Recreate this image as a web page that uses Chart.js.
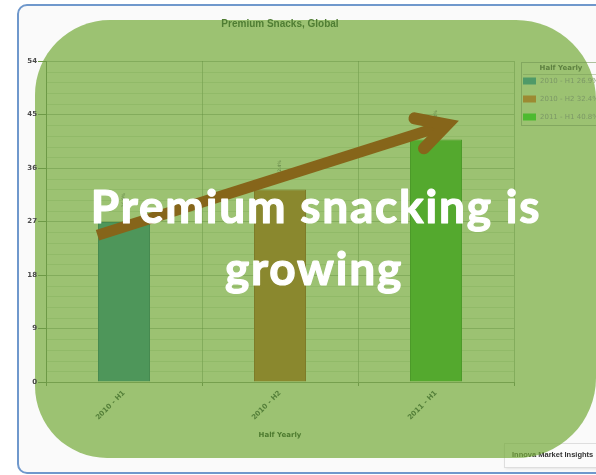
<!DOCTYPE html>
<html>
<head>
<meta charset="utf-8">
<title>Premium Snacks, Global</title>
<script src="https://cdn.jsdelivr.net/npm/chart.js@4.4.1/dist/chart.umd.min.js"></script>
<style>
  html, body { margin: 0; padding: 0; background: #fff; }
  #chart { display: block; }
</style>
</head>
<body>
<canvas id="chart" width="596" height="475"></canvas>
<script>
"use strict";
// 半期別プレミアムスナック構成比
var categories = ["2010 - H1", "2010 - H2", "2011 - H1"];
var shares = [26.9, 32.4, 40.8];
var barColors = ["#4e965a", "#8a882e", "#54a92e"];
var barBorders = ["#468a50", "#7d7b28", "#4c9a29"];
var legendColors = ["#4f9a68", "#9c8a32", "#4dba30"];
var yMax = 54;
var yStep = 9;
var minorStep = 1.8;

var headline = ["Premium snacking is", "growing"];
// 矢印の始点・先端（カテゴリ位置, 値）
var arrowFrom = [-0.17, 24.7];
var arrowTo = [2.07, 43.3];

var decor = {
    id: "decor",
    beforeDraw: function (chart) {
        var ctx = chart.ctx;
        ctx.save();
        ctx.fillStyle = "#fff";
        ctx.fillRect(0, 0, chart.width, chart.height);

        // 外枠
        ctx.beginPath();
        ctx.roundRect(18, 5, 640, 468, 9);
        ctx.fillStyle = "#fafafa";
        ctx.fill();
        ctx.lineWidth = 2;
        ctx.strokeStyle = "#6f98cc";
        ctx.stroke();

        // クレジット
        ctx.shadowColor = "rgba(0,0,0,0.12)";
        ctx.shadowBlur = 3;
        ctx.shadowOffsetY = 1;
        ctx.fillStyle = "#fbfbfb";
        ctx.fillRect(504.5, 443.5, 100, 24);
        ctx.shadowColor = "transparent";
        ctx.strokeStyle = "#dedede";
        ctx.lineWidth = 1;
        ctx.strokeRect(504.5, 443.5, 100, 24);
        ctx.fillStyle = "#333";
        ctx.font = "bold 7.5px 'Liberation Sans'";
        ctx.textBaseline = "middle";
        ctx.fillText("Innova Market Insights", 512, 455);

        // 緑のパネル（半透明）
        ctx.beginPath();
        ctx.roundRect(35, 20, 561, 438, [75, 80, 80, 72]);
        ctx.fillStyle = "rgba(115,169,55,0.7)";
        ctx.fill();
        ctx.restore();
    },
    beforeDatasetsDraw: function (chart) {
        var ctx = chart.ctx;
        var a = chart.chartArea;
        var y = chart.scales.y;
        ctx.save();
        ctx.strokeStyle = "rgba(120,165,80,0.28)";
        ctx.lineWidth = 1;
        for (var v = minorStep; v < yMax; v += minorStep) {
            if (Math.abs(v / yStep - Math.round(v / yStep)) < 0.01) continue;
            var py = Math.round(y.getPixelForValue(v)) + 0.5;
            ctx.beginPath();
            ctx.moveTo(a.left, py);
            ctx.lineTo(a.right, py);
            ctx.stroke();
        }
        ctx.restore();
    },
    afterDatasetsDraw: function (chart) {
        var ctx = chart.ctx;
        var meta = chart.getDatasetMeta(0);
        ctx.save();
        ctx.fillStyle = "#5f7f45";
        ctx.font = "4.5px 'DejaVu Sans'";
        ctx.textAlign = "center";
        ctx.textBaseline = "middle";
        meta.data.forEach(function (bar, i) {
            ctx.save();
            ctx.translate(bar.x, bar.y - 22);
            ctx.rotate(-Math.PI / 2);
            ctx.fillText(shares[i].toFixed(1) + "%", 0, 0);
            ctx.restore();
        });
        ctx.restore();
    },
    afterDraw: function (chart) {
        var ctx = chart.ctx;
        var x = chart.scales.x;
        var y = chart.scales.y;
        ctx.save();

        // タイトル
        ctx.fillStyle = "#4f7d33";
        ctx.font = "bold 10px 'Liberation Sans'";
        ctx.textAlign = "center";
        ctx.textBaseline = "middle";
        ctx.fillText("Premium Snacks, Global", 280, 24);

        // 凡例
        ctx.strokeStyle = "rgba(110,145,80,0.55)";
        ctx.lineWidth = 1;
        ctx.strokeRect(521.5, 62.5, 90, 63);
        ctx.beginPath();
        ctx.moveTo(523, 74.5);
        ctx.lineTo(600, 74.5);
        ctx.strokeStyle = "rgba(110,145,80,0.4)";
        ctx.stroke();
        ctx.fillStyle = "#5d8040";
        ctx.font = "bold 7px 'DejaVu Sans'";
        ctx.fillText("Half Yearly", 561, 68);
        ctx.textAlign = "left";
        ctx.font = "7px 'DejaVu Sans'";
        categories.forEach(function (c, i) {
            var iy = 81 + i * 18;
            ctx.fillStyle = legendColors[i];
            ctx.fillRect(523, iy - 3.5, 13, 7);
            ctx.fillStyle = "#7c9866";
            ctx.fillText(c + " " + shares[i] + "%", 540, iy);
        });

        // 矢印
        var x0 = x.getPixelForValue(arrowFrom[0]), y0 = y.getPixelForValue(arrowFrom[1]);
        var x1 = x.getPixelForValue(arrowTo[0]), y1 = y.getPixelForValue(arrowTo[1]);
        var back = Math.atan2(y0 - y1, x0 - x1);
        var wing = 33, spread = 28.5 * Math.PI / 180;
        ctx.strokeStyle = "#86651a";
        ctx.lineWidth = 11;
        ctx.lineCap = "butt";
        ctx.beginPath();
        ctx.moveTo(x0, y0);
        ctx.lineTo(x1, y1);
        ctx.stroke();
        ctx.lineWidth = 12;
        ctx.lineCap = "round";
        ctx.lineJoin = "miter";
        ctx.miterLimit = 10;
        ctx.beginPath();
        ctx.moveTo(x1 + wing * Math.cos(back - spread), y1 + wing * Math.sin(back - spread));
        ctx.lineTo(x1, y1);
        ctx.lineTo(x1 + wing * Math.cos(back + spread), y1 + wing * Math.sin(back + spread));
        ctx.stroke();

        // 見出し
        ctx.fillStyle = "#fff";
        ctx.strokeStyle = "#fff";
        ctx.lineWidth = 1.2;
        ctx.lineJoin = "round";
        ctx.font = "bold 46px Lato";
        ctx.letterSpacing = "1.8px";
        ctx.textAlign = "center";
        ctx.textBaseline = "alphabetic";
        ctx.fillText(headline[0], 316, 223);
        ctx.strokeText(headline[0], 316, 223);
        ctx.fillText(headline[1], 314, 285);
        ctx.strokeText(headline[1], 314, 285);
        ctx.restore();
    }
};

var ctx = document.getElementById("chart");
var snackChart = new Chart(ctx, {
    type: "bar",
    data: {
        labels: categories,
        datasets: [{
            data: shares,
            backgroundColor: barColors,
            borderColor: barBorders,
            borderWidth: 1,
            categoryPercentage: 1,
            barPercentage: 1 / 3
        }]
    },
    options: {
        responsive: false,
        animation: false,
        layout: { padding: { left: 20, top: 61, right: 82, bottom: 36 } },
        plugins: {
            legend: { display: false },
            title: { display: false },
            tooltip: { enabled: false }
        },
        scales: {
            x: {
                grid: { color: "rgba(95,140,60,0.4)", tickLength: 4, offset: true, tickColor: "#6f9a48" },
                border: { color: "#76a04e" },
                ticks: {
                    autoSkip: false,
                    minRotation: 45,
                    maxRotation: 45,
                    padding: 3,
                    color: "#55803a",
                    font: { family: "DejaVu Sans", size: 7, weight: "bold" }
                },
                title: {
                    display: true,
                    text: "Half Yearly",
                    padding: 0,
                    color: "#4d7a2f",
                    font: { family: "DejaVu Sans", size: 7, weight: "bold" }
                },
                afterFit: function (s) { s.height = 57; }
            },
            y: {
                min: 0,
                max: yMax,
                grid: { color: "rgba(95,140,60,0.4)", tickLength: 8, tickColor: "#6d9946" },
                border: { color: "#6d9946" },
                ticks: {
                    stepSize: yStep,
                    padding: 1,
                    color: "#4a4a4a",
                    font: { family: "DejaVu Sans", size: 7, weight: "bold" }
                },
                afterFit: function (s) { s.width = 26; }
            }
        }
    },
    plugins: [decor]
});
</script>
</body>
</html>
